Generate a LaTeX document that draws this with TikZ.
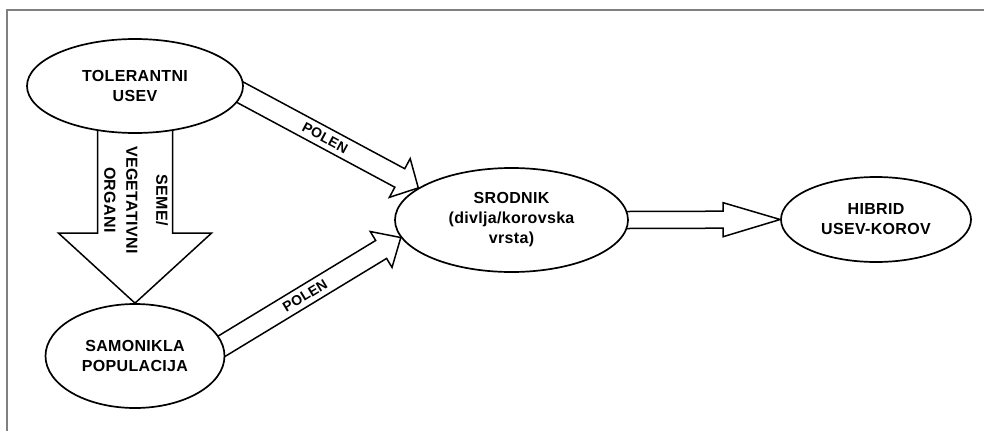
\documentclass[tikz,border=0pt]{standalone}
\usepackage{fontspec}
\setmainfont{Liberation Sans}
\newfontfamily\lblfont[LetterSpace=2]{Liberation Sans}
\usetikzlibrary{shapes.geometric,calc,backgrounds}
\newcommand\blockarr[6]{%
  \coordinate (ba-s) at ($(#1)!-#6!(#2)$);
  \coordinate (ba-h) at ($(#2)!#5!(#1)$);
  \draw[arrowbox] ($(ba-s)!#3!90:(#2)$) -- ($(ba-h)!#3!90:(#2)$) -- ($(ba-h)!#4!90:(#2)$) -- (#2)
    -- ($(ba-h)!#4!-90:(#2)$) -- ($(ba-h)!#3!-90:(#2)$) -- ($(ba-s)!#3!-90:(#2)$) -- cycle;
}
\tikzset{
  ell/.style={ellipse, draw, line width=1.7pt, fill=white, inner sep=0pt, align=center,
    font=\lblfont\bfseries\fontsize{16}{20}\selectfont},
  arrowbox/.style={draw, fill=white, line width=1.5pt, line join=miter},
  lbl/.style={inner sep=0pt, font=\lblfont\bfseries\fontsize{14}{16}\selectfont},
  vlbl/.style={inner sep=0pt, align=center, font=\lblfont\bfseries\fontsize{16}{22}\selectfont},
  frame/.style={draw=gray, line width=1.5pt}
}
\begin{document}
\begin{tikzpicture}[x=1pt,y=-1pt]
\useasboundingbox (0,0) rectangle (984,431);
\coordinate (fbl) at (7,431);
\coordinate (ftl) at (7,10);
\coordinate (ftr) at (984,10);
\draw[frame] (fbl) -- (ftl) -- (ftr);

\node[ell, minimum width=216pt, minimum height=94pt] (tol) at (135,86) {TOLERANTNI\\USEV};
\node[ell, minimum width=179pt, minimum height=104pt] (sam) at (135,356) {SAMONIKLA\\POPULACIJA};
\node[ell, minimum width=233pt, minimum height=104pt] (sro) at (511.5,220) {SRODNIK\\(divlja/korovska\\vrsta)};
\node[ell, minimum width=190pt, minimum height=85pt] (hib) at (876,219.5) {HIBRID\\USEV-KOROV};

\begin{pgfonlayer}{background}
\fill[white] (0,0) rectangle (984,431);
\blockarr{tol.south}{sam.north}{37.5pt}{76.5pt}{70pt}{20pt}
\blockarr{tol.-4.5}{sro.161}{10.5pt}{22pt}{21pt}{15pt}
\blockarr{sam.7}{sro.189.4}{10.5pt}{21pt}{23pt}{15pt}
\blockarr{sro.east}{hib.west}{8.5pt}{17pt}{57pt}{20pt}
\end{pgfonlayer}

\path (tol.-4.5) -- (sro.161) node[pos=.47, sloped, lbl] (p1) {POLEN};
\path (sam.7) -- (sro.189.4) node[pos=.46, sloped, lbl] (p2) {POLEN};
\node[vlbl, rotate=-90] (vt) at (136,200) {SEME/\\[8pt]VEGETATIVNI\\ORGANI};
\end{tikzpicture}
\end{document}
